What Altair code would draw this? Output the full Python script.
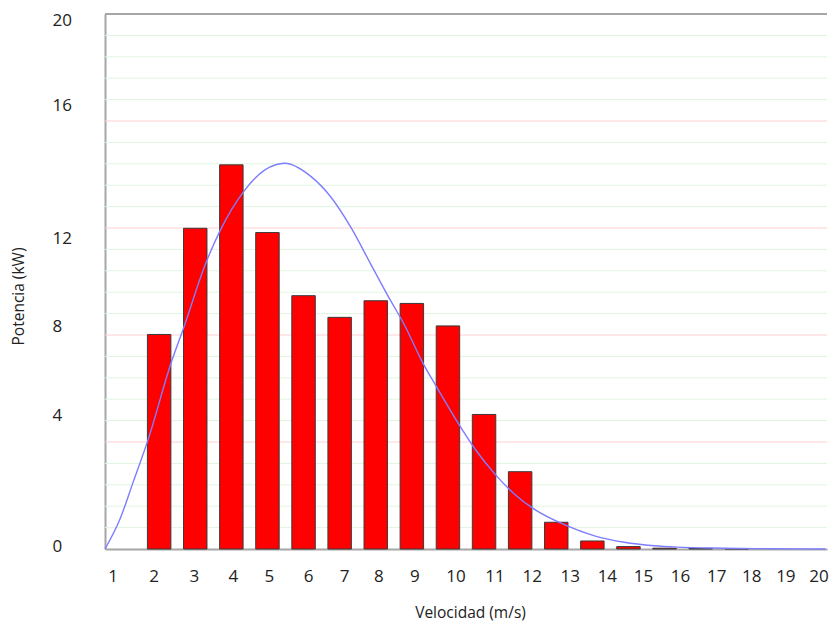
import altair as alt
import pandas as pd

# ---- data ----
velocidad = list(range(1, 21))
potencia = [0, 8.02, 11.99, 14.36, 11.83, 9.47, 8.66, 9.28, 9.18, 8.34,
            5.03, 2.89, 1.00, 0.30, 0.09, 0.03, 0.02, 0.01, 0, 0]

curva_v = [0.5, 0.91, 1.28, 1.69, 2.33, 2.69, 3.29, 3.70, 4.34, 4.93, 5.48,
           6.21, 6.75, 7.30, 7.85, 8.40, 8.77, 9.31, 9.68, 10.23, 10.77,
           11.32, 11.87, 12.42, 13.24, 14.06, 14.88, 15.71, 16.34, 17.62,
           18.99, 20.45]
curva_p = [0, 1.1, 2.5, 4.07, 6.95, 8.31, 10.68, 11.93, 13.36, 14.17, 14.42,
           13.92, 13.17, 12.05, 10.68, 9.31, 8.44, 6.94, 6.07, 4.82, 3.70,
           2.77, 2.02, 1.46, 0.90, 0.49, 0.25, 0.12, 0.07, 0.03,
           0.01, 0]

y_ticks = [0, 4, 8, 12, 16, 20]
grid_major = [4, 8, 12, 16]
grid_minor = [0.8, 1.6, 2.4, 3.2, 4.8, 5.6, 6.4, 7.2, 8.8, 9.6, 10.4, 11.2,
              12.8, 13.6, 14.4, 15.2, 16.8, 17.6, 18.4, 19.2]
top_line = [20]

bars_df = pd.DataFrame({"vel": velocidad, "pot": potencia})
curve_df = pd.DataFrame({"v": curva_v, "p": curva_p})
minor_df = pd.DataFrame({"g": grid_minor})
major_df = pd.DataFrame({"g": grid_major})
top_df = pd.DataFrame({"g": top_line})

FONT = "Open Sans"
TEXT = "#222222"
yscale = alt.Scale(domain=[0, 20], nice=False, zero=True)

x_off = "[-10,-5,-1,2,2,5,5,3,3,8,11,12,14,15,15,16,16,15,13,10][datum.value-1]"
y_off = ("datum.value==20?6:datum.value==16?-16:datum.value==12?10:"
         "datum.value==8?-9:datum.value==4?-27:-2.5")

y_axis = alt.Axis(
    title="Potencia (kW)",
    values=y_ticks,
    grid=False,
    ticks=False,
    tickSize=0,
    labelAlign="left",
    labelBaseline="middle",
    labelPadding=53,
    labelFontSize=17,
    labelFont=FONT,
    labelColor=TEXT,
    domainColor="#a6a6a6",
    domainWidth=2,
    titleFont=FONT,
    titleFontSize=15.5,
    titleFontWeight="normal",
    titleColor=TEXT,
    titleAngle=-90,
    titleX=-87,
    titleY=282,
    titleAlign="center",
    titleBaseline="middle",
    labelOffset=alt.ExprRef(expr=y_off),
)

minor = alt.Chart(minor_df).mark_rule(color="#e0f5e0", strokeWidth=1).encode(
    y=alt.Y("g:Q", scale=yscale, axis=y_axis)
)
major = alt.Chart(major_df).mark_rule(color="#ffd0d0", strokeWidth=1).encode(
    y=alt.Y("g:Q", scale=yscale, axis=y_axis)
)
top = alt.Chart(top_df).mark_rule(color="#a6a6a6", strokeWidth=2).encode(
    y=alt.Y("g:Q", scale=yscale, axis=y_axis)
)

bars = alt.Chart(bars_df).transform_filter("datum.pot > 0").mark_bar(
    color="#ff0000", stroke="#3a3a3a", strokeWidth=1
).encode(
    x=alt.X(
        "vel:O",
        scale=alt.Scale(domain=velocidad, paddingInner=0.35, paddingOuter=0.175),
        axis=alt.Axis(
            title="Velocidad (m/s)",
            labelAngle=0,
            ticks=False,
            tickSize=0,
            labelPadding=19,
            labelFontSize=17,
            labelFont=FONT,
            labelColor=TEXT,
            domainColor="#a6a6a6",
            domainWidth=2,
            titleFont=FONT,
            titleFontSize=15.5,
            titleFontWeight="normal",
            titleColor=TEXT,
            titleX=365,
            titleY=63,
            titleBaseline="middle",
            titleAlign="center",
            labelOffset=alt.ExprRef(expr=x_off),
        ),
    ),
    y=alt.Y("pot:Q", scale=yscale, axis=y_axis),
)

curve = alt.Chart(curve_df).mark_line(
    color="#7d7dff", strokeWidth=1.4, interpolate="monotone"
).encode(
    x=alt.X("v:Q", scale=alt.Scale(domain=[0.5, 20.5], nice=False, zero=False), axis=None),
    y=alt.Y("p:Q", scale=yscale, axis=y_axis),
)

chart = (
    alt.layer(minor, major, top, bars, curve)
    .resolve_scale(x="independent")
    .properties(
        width=722,
        height=535,
        autosize="none",
        padding={"left": 97, "top": 6, "right": 3, "bottom": 72},
        background="white",
    )
    .configure_view(stroke=None)
)

chart.save("out.html", embed_options={"renderer": "svg", "actions": False})
